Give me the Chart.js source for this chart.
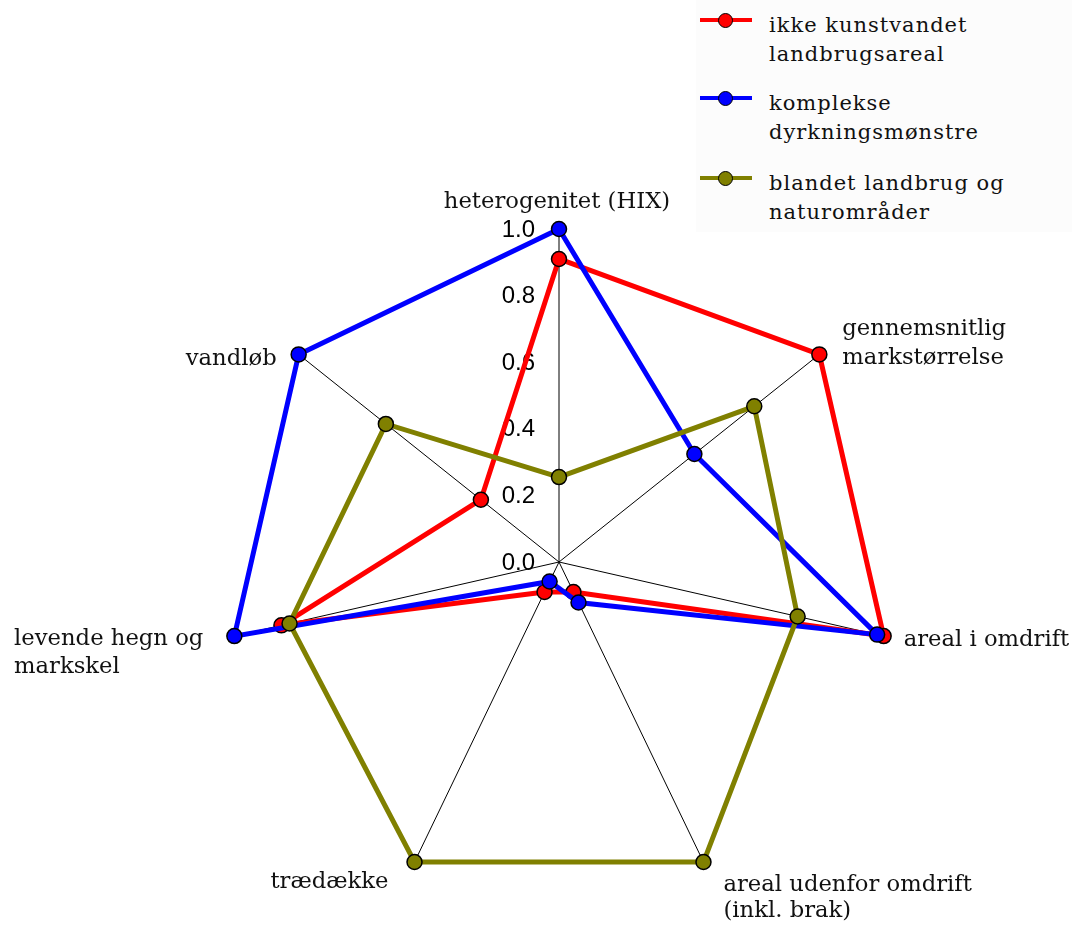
<!DOCTYPE html>
<html>
<head>
<meta charset="utf-8">
<script src="https://cdn.jsdelivr.net/npm/chart.js@4"></script>
<style>
    body { margin: 0; background: #fff; }
    #wrap { position: relative; width: 1072px; height: 925px; }
    #legend { position: absolute; left: 696px; top: 0; width: 376px; height: 232px; background: #fcfcfc;
        font-family: "DejaVu Serif", serif; font-size: 21px; letter-spacing: 1px; color: #111; }
    .line { position: absolute; left: 4px; width: 52px; height: 4px; }
    .dot { position: absolute; left: 22px; width: 15px; height: 15px; border-radius: 50%; border: 1px solid #000; box-sizing: border-box; }
    .txt { position: absolute; left: 73px; line-height: 29px; white-space: nowrap; }
</style>
</head>
<body>
<div id="wrap">
    <canvas id="radarChartID"></canvas>
    <div id="legend"></div>
</div>
<script>
// axis categories (clockwise from top)
var categories = [
    ['heterogenitet (HIX)'],
    ['gennemsnitlig', 'markstørrelse'],
    ['areal i omdrift'],
    ['areal udenfor omdrift', '(inkl. brak)'],
    ['trædække'],
    ['levende hegn og', 'markskel'],
    ['vandløb']
];
var tick_values = [0.0, 0.2, 0.4, 0.6, 0.8, 1.0];

var series_names = [
    ['ikke kunstvandet', 'landbrugsareal'],
    ['komplekse', 'dyrkningsmønstre'],
    ['blandet landbrug og', 'naturområder']
];
var ikke_kunstvandet = [0.91, 1.0, 1.0, 0.10, 0.10, 0.855, 0.30];
var komplekse = [1.0, 0.52, 0.98, 0.135, 0.065, 1.0, 1.0];
var blandet = [0.255, 0.75, 0.735, 1.0, 1.0, 0.83, 0.665];
var series_colors = ['#ff0000', '#0000ff', '#808000'];

// where each axis label sits, relative to the 1.0 point of that axis
var label_place = [
    { align: 'center', dx: -2, dy: [-27] },
    { align: 'left', dx: 23, dy: [-25, 4] },
    { align: 'left', dx: 20, dy: [4] },
    { align: 'left', dx: 20, dy: [23, 49] },
    { align: 'right', dx: -26, dy: [20] },
    { align: 'block', dx: -31, dy: [3, 31] },
    { align: 'right', dx: -22, dy: [5] }
];

var axisText = {
    id: 'axisText',
    beforeDatasetsDraw: function(chart) {
        var s = chart.scales.r;
        var ctx = chart.ctx;
        ctx.save();
        ctx.fillStyle = '#000';
        ctx.textBaseline = 'middle';
        // tick labels, left of the top axis
        ctx.font = '24px "Liberation Sans", Arial, sans-serif';
        ctx.textAlign = 'right';
        tick_values.forEach(function(v) {
            var p = s.getPointPositionForValue(0, v);
            ctx.fillText(v.toFixed(1), p.x - 24, p.y + 1);
        });
        // axis names
        ctx.font = '22.7px "DejaVu Serif", serif';
        ctx.fillStyle = '#111';
        categories.forEach(function(lines, i) {
            var p = s.getPointPosition(i, s.drawingArea);
            var pl = label_place[i];
            var x = p.x + pl.dx;
            if (pl.align === 'block') {
                var w = Math.max.apply(null, lines.map(function(t) { return ctx.measureText(t).width; }));
                ctx.textAlign = 'left';
                x = x - w;
            } else {
                ctx.textAlign = pl.align;
            }
            lines.forEach(function(t, j) {
                ctx.fillText(t, x, p.y + pl.dy[j]);
            });
        });
        ctx.restore();
    }
};

function make_dataset(name, values, color, order) {
    return {
        label: name.join(' '),
        data: values,
        borderColor: color,
        backgroundColor: color,
        borderWidth: 5,
        fill: false,
        pointRadius: 7.5,
        pointHoverRadius: 7.5,
        pointBackgroundColor: color,
        pointBorderColor: '#000',
        pointBorderWidth: 1.5,
        order: order
    };
}

var radar_config = {
    type: 'radar',
    data: {
        labels: categories,
        datasets: [
            make_dataset(series_names[0], ikke_kunstvandet, series_colors[0], 3),
            make_dataset(series_names[1], komplekse, series_colors[1], 2),
            make_dataset(series_names[2], blandet, series_colors[2], 1)
        ]
    },
    options: {
        responsive: true,
        maintainAspectRatio: false,
        animation: false,
        layout: {
            padding: { left: 226, right: 180, top: 229, bottom: 30 }
        },
        plugins: {
            legend: { display: false },
            tooltip: { enabled: false }
        },
        scales: {
            r: {
                min: 0,
                max: 1,
                ticks: { display: false, stepSize: 0.2 },
                grid: { display: false },
                angleLines: { display: true, color: '#000', lineWidth: 1 },
                pointLabels: { display: false }
            }
        }
    },
    plugins: [axisText]
};

function draw_legend() {
    var box = document.getElementById('legend');
    var marker_y = [20, 98, 178];
    var text_top = [11, 89, 169];
    series_names.forEach(function(name, i) {
        var line = document.createElement('div');
        line.className = 'line';
        line.style.top = (marker_y[i] - 2) + 'px';
        line.style.background = series_colors[i];
        box.appendChild(line);
        var dot = document.createElement('div');
        dot.className = 'dot';
        dot.style.top = (marker_y[i] - 7) + 'px';
        dot.style.background = series_colors[i];
        box.appendChild(dot);
        var txt = document.createElement('div');
        txt.className = 'txt';
        txt.style.top = text_top[i] + 'px';
        txt.innerHTML = name.join('<br>');
        box.appendChild(txt);
    });
}

var radarChart = new Chart(document.getElementById('radarChartID'), radar_config);
draw_legend();
</script>
</body>
</html>
